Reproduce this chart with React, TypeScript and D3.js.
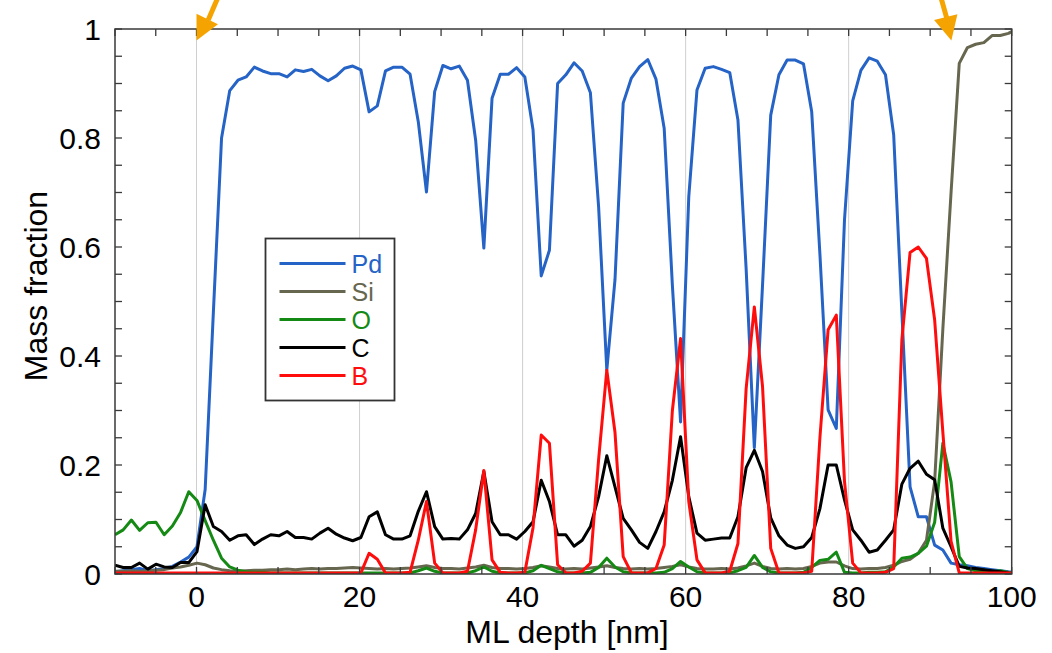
import React from 'react';
import * as d3 from 'd3';

// Depth sampling grid of the profile (nm)
const SAMPLE_START = -10;
const SAMPLE_STEP = 1.0055;
const SAMPLE_COUNT = 111;
const depth = d3.range(SAMPLE_COUNT).map((i) => SAMPLE_START + i * SAMPLE_STEP);

// Mass fractions per element along the depth grid
const pd = [
  0.004, 0.006, 0.008, 0.010, 0.006, 0.008, 0.010, 0.014, 0.022, 0.031,
  0.050, 0.155, 0.480, 0.800, 0.887, 0.906, 0.912, 0.930, 0.923, 0.918,
  0.918, 0.912, 0.925, 0.922, 0.926, 0.914, 0.905, 0.914, 0.928, 0.932,
  0.925, 0.848, 0.859, 0.923, 0.930, 0.930, 0.917, 0.830, 0.701, 0.885,
  0.933, 0.927, 0.932, 0.906, 0.796, 0.598, 0.873, 0.917, 0.917, 0.929,
  0.912, 0.815, 0.547, 0.594, 0.900, 0.916, 0.938, 0.923, 0.883, 0.674,
  0.374, 0.540, 0.864, 0.910, 0.931, 0.944, 0.908, 0.818, 0.530, 0.279,
  0.692, 0.888, 0.928, 0.931, 0.926, 0.920, 0.833, 0.560, 0.232, 0.530,
  0.842, 0.916, 0.943, 0.943, 0.936, 0.848, 0.587, 0.301, 0.267, 0.650,
  0.868, 0.924, 0.947, 0.941, 0.916, 0.806, 0.480, 0.160, 0.105, 0.105,
  0.053, 0.044, 0.020, 0.017, 0.015, 0.012, 0.010, 0.008, 0.006, 0.004,
  0.003,
];

const si = [
  0.005, 0.005, 0.006, 0.005, 0.006, 0.007, 0.008, 0.011, 0.013, 0.016,
  0.020, 0.017, 0.011, 0.008, 0.006, 0.005, 0.006, 0.007, 0.007, 0.008,
  0.008, 0.009, 0.008, 0.009, 0.010, 0.009, 0.010, 0.010, 0.011, 0.012,
  0.011, 0.010, 0.009, 0.010, 0.009, 0.010, 0.011, 0.013, 0.015, 0.012,
  0.010, 0.010, 0.009, 0.011, 0.013, 0.016, 0.012, 0.010, 0.010, 0.009,
  0.010, 0.012, 0.015, 0.013, 0.010, 0.009, 0.010, 0.009, 0.011, 0.013,
  0.015, 0.012, 0.010, 0.009, 0.010, 0.009, 0.010, 0.012, 0.014, 0.017,
  0.013, 0.010, 0.009, 0.009, 0.010, 0.009, 0.011, 0.015, 0.020, 0.014,
  0.010, 0.009, 0.010, 0.009, 0.010, 0.014, 0.020, 0.022, 0.022, 0.015,
  0.010, 0.009, 0.010, 0.010, 0.012, 0.016, 0.023, 0.027, 0.038, 0.062,
  0.170, 0.450, 0.700, 0.937, 0.966, 0.972, 0.975, 0.988, 0.988, 0.992,
  1.000,
];

const o = [
  0.072, 0.081, 0.099, 0.080, 0.094, 0.095, 0.072, 0.088, 0.113, 0.151,
  0.135, 0.098, 0.062, 0.029, 0.013, 0.007, 0.004, 0.003, 0.003, 0.002,
  0.002, 0.002, 0.002, 0.002, 0.002, 0.002, 0.002, 0.002, 0.002, 0.002,
  0.002, 0.002, 0.002, 0.002, 0.002, 0.002, 0.002, 0.006, 0.011, 0.005,
  0.002, 0.002, 0.002, 0.002, 0.006, 0.013, 0.005, 0.002, 0.002, 0.002,
  0.002, 0.006, 0.016, 0.010, 0.004, 0.002, 0.002, 0.002, 0.003, 0.012,
  0.029, 0.013, 0.004, 0.002, 0.002, 0.002, 0.002, 0.003, 0.010, 0.023,
  0.013, 0.004, 0.002, 0.002, 0.002, 0.002, 0.006, 0.012, 0.034, 0.012,
  0.004, 0.002, 0.002, 0.002, 0.003, 0.012, 0.025, 0.027, 0.040, 0.003,
  0.002, 0.002, 0.003, 0.003, 0.004, 0.013, 0.029, 0.031, 0.038, 0.051,
  0.095, 0.240, 0.169, 0.032, 0.010, 0.006, 0.005, 0.004, 0.006, 0.003,
  0.001,
];

const c = [
  0.016, 0.012, 0.012, 0.020, 0.009, 0.018, 0.013, 0.012, 0.021, 0.021,
  0.041, 0.127, 0.087, 0.078, 0.062, 0.070, 0.072, 0.054, 0.064, 0.072,
  0.070, 0.078, 0.067, 0.067, 0.064, 0.075, 0.084, 0.073, 0.066, 0.061,
  0.067, 0.105, 0.114, 0.072, 0.064, 0.064, 0.070, 0.115, 0.151, 0.087,
  0.064, 0.065, 0.064, 0.081, 0.111, 0.188, 0.096, 0.072, 0.072, 0.064,
  0.078, 0.096, 0.172, 0.133, 0.072, 0.072, 0.051, 0.062, 0.087, 0.142,
  0.217, 0.160, 0.102, 0.081, 0.058, 0.047, 0.078, 0.114, 0.172, 0.252,
  0.142, 0.075, 0.062, 0.064, 0.066, 0.066, 0.105, 0.195, 0.227, 0.188,
  0.103, 0.070, 0.053, 0.047, 0.050, 0.067, 0.120, 0.200, 0.200, 0.136,
  0.081, 0.062, 0.040, 0.044, 0.062, 0.081, 0.165, 0.194, 0.207, 0.183,
  0.173, 0.084, 0.050, 0.014, 0.011, 0.010, 0.008, 0.006, 0.004, 0.002,
  0.001,
];

const b = [
  0.002, 0.002, 0.002, 0.002, 0.002, 0.002, 0.002, 0.002, 0.002, 0.002,
  0.002, 0.002, 0.002, 0.002, 0.002, 0.002, 0.002, 0.002, 0.002, 0.002,
  0.002, 0.002, 0.002, 0.002, 0.002, 0.002, 0.002, 0.002, 0.002, 0.002,
  0.002, 0.038, 0.027, 0.002, 0.002, 0.002, 0.003, 0.062, 0.133, 0.020,
  0.002, 0.002, 0.002, 0.005, 0.081, 0.190, 0.026, 0.003, 0.002, 0.002,
  0.003, 0.085, 0.255, 0.240, 0.017, 0.002, 0.002, 0.005, 0.020, 0.210,
  0.374, 0.260, 0.032, 0.002, 0.002, 0.002, 0.010, 0.053, 0.300, 0.432,
  0.133, 0.026, 0.002, 0.002, 0.002, 0.005, 0.056, 0.340, 0.490, 0.344,
  0.047, 0.002, 0.002, 0.002, 0.002, 0.005, 0.250, 0.448, 0.475, 0.170,
  0.020, 0.002, 0.002, 0.002, 0.003, 0.010, 0.430, 0.590, 0.600, 0.579,
  0.466, 0.260, 0.060, 0.002, 0.002, 0.002, 0.002, 0.002, 0.002, 0.002,
  0.002,
];

const elementNames = ['Pd', 'Si', 'O', 'C', 'B'];
const elementColors = ['#2563c6', '#67674f', '#148a14', '#000000', '#ff0d0d'];
const elementValues = [pd, si, o, c, b];

// Axis ticks and labels
const xTickLabels = [0, 20, 40, 60, 80, 100];
const yTickLabels = [0, 0.2, 0.4, 0.6, 0.8, 1];
const xMinorTicks = d3.range(-10, 100.01, 5);
const yMinorTicks = d3.range(0, 1.001, 0.05);
const gridDepths = [0, 20, 40, 60, 80];

// Interface markers drawn above the plot
const arrowDepths = [0, 92.6];
const arrowDirections = [
  [-0.446, 0.895],
  [0.235, 0.972],
];

const WIDTH = 1052;
const HEIGHT = 653;
const PLOT = { left: 115, right: 1011.7, top: 29, bottom: 574 };
const FONT = '"Liberation Sans", Arial, Helvetica, sans-serif';
const AXIS_COLOR = '#3a3a3a';
const ARROW_COLOR = '#f5a300';

export default function App() {
  const x = d3.scaleLinear().domain([-10, 100]).range([PLOT.left, PLOT.right]);
  const y = d3.scaleLinear().domain([0, 1]).range([PLOT.bottom, PLOT.top]);

  const series = elementNames.map((name, k) => ({
    name,
    color: elementColors[k],
    points: depth.map((d, i) => [d, elementValues[k][i]] as [number, number]),
  }));

  const line = d3
    .line<[number, number]>()
    .x((p) => x(p[0]))
    .y((p) => y(p[1]));

  const tickLen = 7;
  const yFmt = (v: number) => (v === 0 || v === 1 ? String(v) : v.toFixed(1));

  const legend = { x: 265.5, y: 238.5, w: 129, h: 162, row: 28 };

  return (
    <svg
      width={WIDTH}
      height={HEIGHT}
      viewBox={`0 0 ${WIDTH} ${HEIGHT}`}
      style={{ position: 'absolute', left: 0, top: 0, background: '#ffffff' }}
      fontFamily={FONT}
    >
      <defs>
        <clipPath id="plot-clip">
          <rect x={PLOT.left} y={PLOT.top} width={PLOT.right - PLOT.left} height={PLOT.bottom - PLOT.top} />
        </clipPath>
      </defs>
      <rect x={0} y={0} width={WIDTH} height={HEIGHT} fill="#ffffff" />

      {/* vertical grid */}
      {gridDepths.map((g) => (
        <line key={`g${g}`} x1={x(g)} x2={x(g)} y1={PLOT.top} y2={PLOT.bottom} stroke="#cfcfcf" strokeWidth={1} />
      ))}

      {/* element profiles */}
      <g clipPath="url(#plot-clip)">
        {series.map((s) => (
          <path
            key={s.name}
            d={line(s.points) || ''}
            fill="none"
            stroke={s.color}
            strokeWidth={3}
            strokeLinejoin="round"
          />
        ))}
      </g>

      {/* frame */}
      <rect
        x={PLOT.left}
        y={PLOT.top}
        width={PLOT.right - PLOT.left}
        height={PLOT.bottom - PLOT.top}
        fill="none"
        stroke={AXIS_COLOR}
        strokeWidth={1.5}
      />

      {/* inward ticks on all four sides */}
      {xMinorTicks.map((t) => (
        <g key={`xt${t}`} stroke={AXIS_COLOR} strokeWidth={1.3}>
          <line x1={x(t)} x2={x(t)} y1={PLOT.bottom} y2={PLOT.bottom - tickLen} />
          <line x1={x(t)} x2={x(t)} y1={PLOT.top} y2={PLOT.top + tickLen} />
        </g>
      ))}
      {yMinorTicks.map((t) => (
        <g key={`yt${t.toFixed(2)}`} stroke={AXIS_COLOR} strokeWidth={1.3}>
          <line x1={PLOT.left} x2={PLOT.left + tickLen} y1={y(t)} y2={y(t)} />
          <line x1={PLOT.right} x2={PLOT.right - tickLen} y1={y(t)} y2={y(t)} />
        </g>
      ))}

      {/* tick labels */}
      {xTickLabels.map((t) => (
        <text key={`xl${t}`} x={x(t)} y={607} textAnchor="middle" fontSize={30} fill="#000">
          {t}
        </text>
      ))}
      {yTickLabels.map((t) => (
        <text key={`yl${t}`} x={101} y={y(t) + 10.5} textAnchor="end" fontSize={30} fill="#000">
          {yFmt(t)}
        </text>
      ))}

      {/* axis titles */}
      <text x={567} y={643} textAnchor="middle" fontSize={32} fill="#000">
        ML depth [nm]
      </text>
      <text transform="translate(47,286) rotate(-90)" textAnchor="middle" fontSize={32} fill="#000">
        Mass fraction
      </text>

      {/* legend */}
      <rect x={legend.x} y={legend.y} width={legend.w} height={legend.h} fill="#ffffff" stroke="#333" strokeWidth={1.8} />
      {series.map((s, k) => {
        const ly = legend.y + 25 + k * legend.row;
        return (
          <g key={`lg${s.name}`}>
            <line x1={legend.x + 14} x2={legend.x + 80} y1={ly} y2={ly} stroke={s.color} strokeWidth={3} />
            <text x={legend.x + 86} y={ly + 9} fontSize={25} fill={s.color}>
              {s.name}
            </text>
          </g>
        );
      })}

      {/* interface arrows */}
      {arrowDepths.map((dpt, k) => {
        const [dx, dy] = arrowDirections[k];
        const tipX = x(dpt);
        const tipY = y(1) + 11.5;
        const headLen = 24;
        const halfW = 12;
        const bx = tipX - dx * headLen;
        const by = tipY - dy * headLen;
        const px = dy;
        const py = -dx;
        const tailT = by / dy + 2;
        return (
          <g key={`ar${k}`}>
            <line x1={bx + 1} x2={bx - dx * tailT} y1={by + 1} y2={by - dy * tailT} stroke={ARROW_COLOR} strokeWidth={5} />
            <polygon
              points={`${tipX},${tipY} ${bx + px * halfW},${by + py * halfW} ${bx - px * halfW},${by - py * halfW}`}
              fill={ARROW_COLOR}
            />
          </g>
        );
      })}
    </svg>
  );
}
